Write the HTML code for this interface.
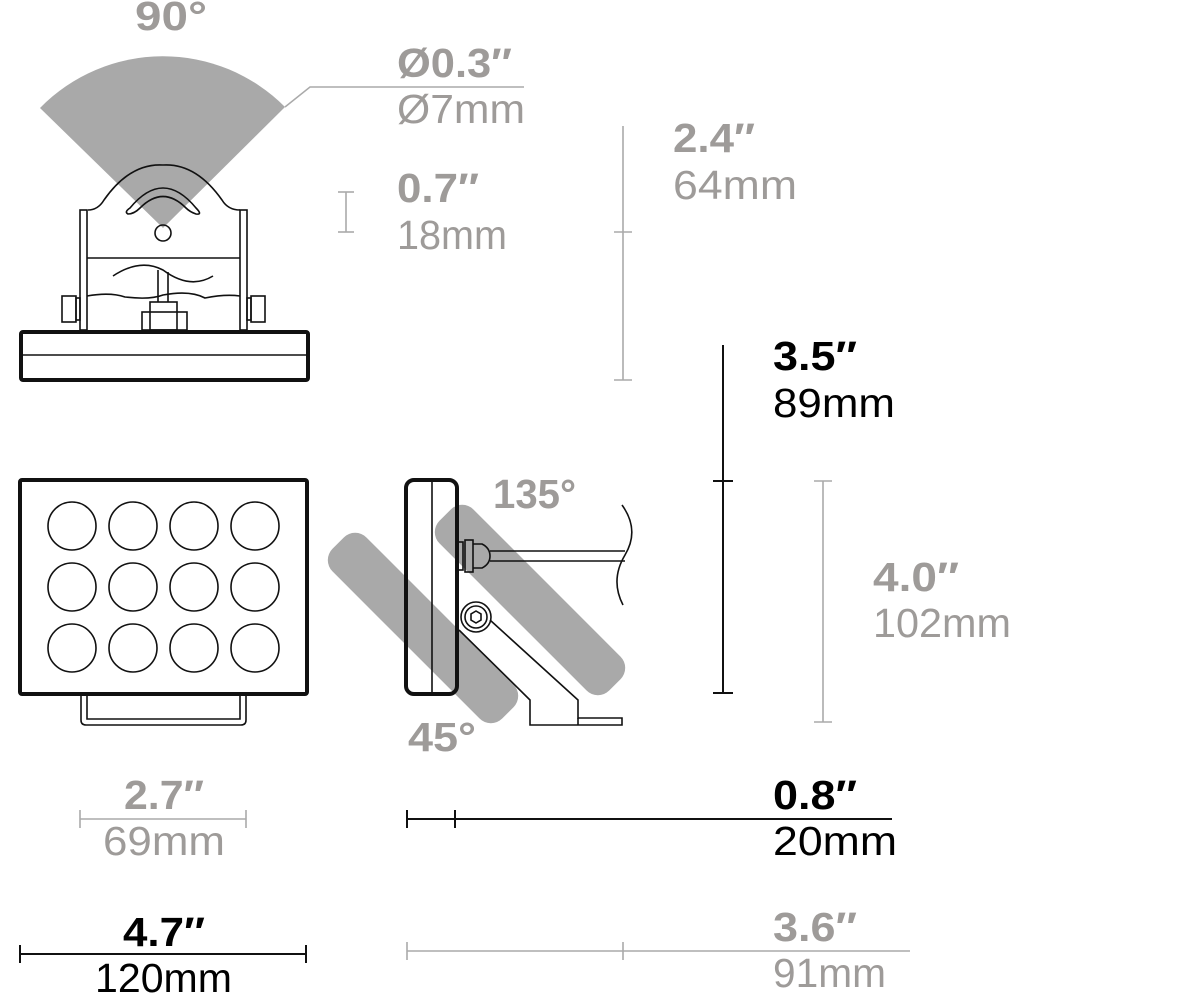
<!DOCTYPE html>
<html><head><meta charset="utf-8"><style>
html,body{margin:0;padding:0;background:#fff}
svg{display:block}
text{font-family:"Liberation Sans",sans-serif;font-size:41px}
.b{font-weight:bold}
.g{fill:#9e9b99}
.k{fill:#000}
</style></head><body>
<svg width="1200" height="1000" viewBox="0 0 1200 1000" xmlns="http://www.w3.org/2000/svg">
<path d="M163,228 L40,108 A172,172 0 0 1 285,107 Z" fill="#a9a9a9"/>
<polyline points="285,107 310,87 524,87" fill="none" stroke="#aaa" stroke-width="1.5"/>
<g fill="none" stroke="#111" stroke-width="1.6">
<path d="M88,210 Q98,210 104,200 Q130,163 163,165 Q196,163 222,200 Q228,210 240,210"/>
<rect x="80" y="210" width="7" height="120"/>
<rect x="240" y="210" width="7" height="120"/>
<path d="M130,208 Q163,168 196,208 Q203,215 196,214 Q190,212 186,208 Q163,185 140,208 Q134,214 128,214 Q124,212 130,208Z"/>
<circle cx="163" cy="233" r="8"/>
<line x1="87" y1="258" x2="240" y2="258"/>
<path d="M113,276 Q140,258 163,270 Q190,290 213,276"/>
<path d="M87,296 Q110,292 125,297 Q150,300 163,295 Q190,290 205,298 Q225,294 240,296"/>
<line x1="158" y1="270" x2="158" y2="302"/><line x1="168" y1="272" x2="168" y2="302"/>
<rect x="150" y="302" width="27" height="28"/>
<rect x="142" y="312" width="45" height="18"/>
<rect x="62" y="296" width="14" height="26"/><rect x="76" y="298" width="4" height="22"/>
<rect x="251" y="296" width="14" height="26"/><rect x="247" y="298" width="4" height="22"/>
</g>
<rect x="21" y="332" width="287" height="48" rx="2" fill="none" stroke="#111" stroke-width="4"/>
<line x1="22" y1="355" x2="306" y2="355" stroke="#111" stroke-width="1.6"/>
<rect x="20" y="480" width="287" height="214" rx="2" fill="none" stroke="#111" stroke-width="4"/>
<g fill="none" stroke="#111" stroke-width="1.6">
<circle cx="72" cy="526" r="24"/><circle cx="133" cy="526" r="24"/><circle cx="194" cy="526" r="24"/><circle cx="255" cy="526" r="24"/>
<circle cx="72" cy="587" r="24"/><circle cx="133" cy="587" r="24"/><circle cx="194" cy="587" r="24"/><circle cx="255" cy="587" r="24"/>
<circle cx="72" cy="648" r="24"/><circle cx="133" cy="648" r="24"/><circle cx="194" cy="648" r="24"/><circle cx="255" cy="648" r="24"/>
<path d="M81,696 V720 Q81,725 86,725 H241 Q246,725 246,720 V696"/>
<path d="M87,696 V719 H240 V696"/>
</g>
<rect x="303" y="604" width="240" height="48" rx="16" fill="#a9a9a9" transform="rotate(45 423 628)"/>
<rect x="410" y="576" width="240" height="48" rx="16" fill="#a9a9a9" transform="rotate(45 530 600)"/>
<rect x="406" y="480" width="51" height="214" rx="8" fill="none" stroke="#111" stroke-width="4"/>
<line x1="432" y1="482" x2="432" y2="692" stroke="#111" stroke-width="1.6"/>
<g fill="none" stroke="#111" stroke-width="1.6">
<rect x="457" y="542" width="6" height="28"/><rect x="465" y="540" width="8" height="32"/><path d="M473,544 H482 Q490,548 490,556 Q490,564 482,568 H473"/>
<line x1="490" y1="551" x2="625" y2="551"/><line x1="490" y1="561" x2="625" y2="561"/>
<path d="M622,505 Q640,530 625,555 Q610,580 623,605"/>
<circle cx="476" cy="617" r="15"/><circle cx="476" cy="617" r="11"/>
<polygon points="476,611 481,614 481,620 476,623 471,620 471,614"/>
<polyline points="459,630 530,700 530,725 622,725 622,718 578,718 578,700 490,620"/>
<line x1="578" y1="718" x2="578" y2="725"/>
</g>
<g stroke="#aaa" stroke-width="1.6" fill="none">
<line x1="346" y1="192" x2="346" y2="232"/><line x1="338" y1="192" x2="354" y2="192"/><line x1="338" y1="232" x2="354" y2="232"/>
<line x1="623" y1="126" x2="623" y2="380"/><line x1="614" y1="232" x2="632" y2="232"/><line x1="614" y1="380" x2="632" y2="380"/>
<line x1="823" y1="481" x2="823" y2="722"/><line x1="814" y1="481" x2="832" y2="481"/><line x1="814" y1="722" x2="832" y2="722"/>
<line x1="80" y1="819" x2="246" y2="819"/><line x1="80" y1="810" x2="80" y2="828"/><line x1="246" y1="810" x2="246" y2="828"/>
<line x1="407" y1="951" x2="910" y2="951"/><line x1="407" y1="942" x2="407" y2="960"/><line x1="623" y1="942" x2="623" y2="960"/>
</g>
<g stroke="#111" stroke-width="2" fill="none">
<line x1="723" y1="345" x2="723" y2="693"/><line x1="713" y1="481" x2="733" y2="481"/><line x1="713" y1="693" x2="733" y2="693"/>
<line x1="407" y1="819" x2="892" y2="819"/><line x1="407" y1="810" x2="407" y2="828"/><line x1="455" y1="810" x2="455" y2="828"/>
<line x1="20" y1="954" x2="306" y2="954"/><line x1="20" y1="945" x2="20" y2="963"/><line x1="306" y1="945" x2="306" y2="963"/>
</g>
<g lengthAdjust="spacingAndGlyphs">
<text x="135" y="30" class="b g" textLength="72" lengthAdjust="spacingAndGlyphs">90°</text>
<text x="397" y="77" class="b g" textLength="115" lengthAdjust="spacingAndGlyphs">Ø0.3″</text>
<text x="397" y="123" class="g" textLength="128" lengthAdjust="spacingAndGlyphs">Ø7mm</text>
<text x="673" y="152" class="b g" textLength="82" lengthAdjust="spacingAndGlyphs">2.4″</text>
<text x="673" y="199" class="g" textLength="124" lengthAdjust="spacingAndGlyphs">64mm</text>
<text x="397" y="202" class="b g" textLength="82" lengthAdjust="spacingAndGlyphs">0.7″</text>
<text x="397" y="249" class="g" textLength="110" lengthAdjust="spacingAndGlyphs">18mm</text>
<text x="773" y="370" class="b k" textLength="84" lengthAdjust="spacingAndGlyphs">3.5″</text>
<text x="773" y="417" class="k" textLength="122" lengthAdjust="spacingAndGlyphs">89mm</text>
<text x="493" y="508" class="b g" textLength="83" lengthAdjust="spacingAndGlyphs">135°</text>
<text x="873" y="591" class="b g" textLength="86" lengthAdjust="spacingAndGlyphs">4.0″</text>
<text x="873" y="637" class="g" textLength="138" lengthAdjust="spacingAndGlyphs">102mm</text>
<text x="408" y="751" class="b g" textLength="68" lengthAdjust="spacingAndGlyphs">45°</text>
<text x="124" y="809" class="b g" textLength="80" lengthAdjust="spacingAndGlyphs">2.7″</text>
<text x="103" y="855" class="g" textLength="122" lengthAdjust="spacingAndGlyphs">69mm</text>
<text x="773" y="809" class="b k" textLength="84" lengthAdjust="spacingAndGlyphs">0.8″</text>
<text x="773" y="855" class="k" textLength="124" lengthAdjust="spacingAndGlyphs">20mm</text>
<text x="123" y="946" class="b k" textLength="82" lengthAdjust="spacingAndGlyphs">4.7″</text>
<text x="95" y="992" class="k" textLength="137" lengthAdjust="spacingAndGlyphs">120mm</text>
<text x="773" y="941" class="b g" textLength="84" lengthAdjust="spacingAndGlyphs">3.6″</text>
<text x="773" y="987" class="g" textLength="113" lengthAdjust="spacingAndGlyphs">91mm</text>
</g>
</svg>
</body></html>
